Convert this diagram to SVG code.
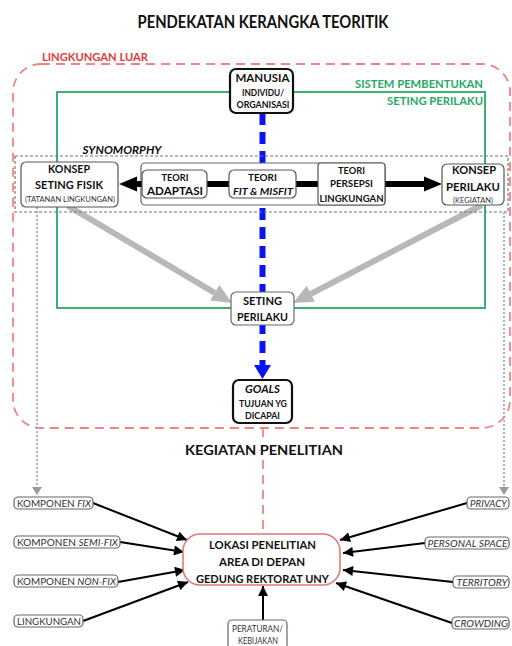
<svg xmlns="http://www.w3.org/2000/svg" width="512" height="646" viewBox="0 0 512 646">
<defs>
<style>
text{font-family:Lato,"Open Sans","Liberation Sans",sans-serif;text-anchor:middle;fill:#111}
.b{font-weight:bold}
.i{font-style:italic}
.sm{font-size:9.5px;fill:#333}
.box{fill:#fff;stroke:#555;stroke-width:1.2}
.kbox{fill:#fff;stroke:#111;stroke-width:2.2}
.gbox{fill:#fff;stroke:#666;stroke-width:1.2}
.blk{stroke:#000;stroke-width:2;fill:none}
</style>
<marker id="ah" viewBox="0 0 10 10" refX="10" refY="5" markerWidth="12" markerHeight="10" markerUnits="userSpaceOnUse" orient="auto"><path d="M0,0 L10,5 L0,10 z" fill="#000"/></marker>
</defs>
<rect width="512" height="646" fill="#fff"/>

<text class="b" x="263" y="28" font-size="16.5" textLength="251" lengthAdjust="spacingAndGlyphs">PENDEKATAN KERANGKA TEORITIK</text>

<g id="lingkungan-luar">
<rect x="13" y="64" width="497" height="364" rx="28" fill="none" stroke="#f08484" stroke-width="1.8" stroke-dasharray="9 6"/>
<text class="b" x="95" y="61" font-size="11" style="fill:#e23a3a" textLength="106" lengthAdjust="spacingAndGlyphs">LINGKUNGAN LUAR</text>
</g>

<g id="sistem">
<rect x="57" y="92" width="428" height="216" fill="none" stroke="#26a866" stroke-width="1.8"/>
<text class="b" x="419" y="88" font-size="12" style="fill:#26a866" textLength="128" lengthAdjust="spacingAndGlyphs">SISTEM PEMBENTUKAN</text>
<text class="b" x="435" y="105" font-size="12" style="fill:#26a866" textLength="96" lengthAdjust="spacingAndGlyphs">SETING PERILAKU</text>
</g>

<g id="connectors">
<line x1="262.5" y1="113" x2="262.5" y2="365" stroke="#0a14ee" stroke-width="6" stroke-dasharray="12 7"/>
<polygon points="254,365 271,365 262.5,379" fill="#0a14ee"/>
<line x1="68" y1="206" x2="214.8" y2="292.8" stroke="#b8b8b8" stroke-width="6"/>
<polygon points="232,303 210.2,300.5 219.4,285.1" fill="#b8b8b8"/>
<line x1="482" y1="205" x2="310.8" y2="293.8" stroke="#b8b8b8" stroke-width="6"/>
<polygon points="293,303 306.7,285.8 314.9,301.8" fill="#b8b8b8"/>
<line x1="37" y1="207" x2="37" y2="488" stroke="#999" stroke-width="1.5" stroke-dasharray="2 2"/>
<polygon points="32,487 42,487 37,495" fill="#999"/>
<line x1="504" y1="212" x2="504" y2="488" stroke="#999" stroke-width="1.5" stroke-dasharray="2 2"/>
<polygon points="499,487 509,487 504,495" fill="#999"/>
<line x1="263" y1="428" x2="263" y2="440" stroke="#f08484" stroke-width="1.8" stroke-dasharray="9 6"/>
<line x1="263" y1="460" x2="263" y2="534" stroke="#f08484" stroke-width="1.8" stroke-dasharray="9 6"/>
<line class="blk" x1="93" y1="503" x2="187" y2="540" marker-end="url(#ah)"/>
<line class="blk" x1="120" y1="542" x2="184" y2="552" marker-end="url(#ah)"/>
<line class="blk" x1="118" y1="582" x2="185" y2="570" marker-end="url(#ah)"/>
<line class="blk" x1="83" y1="621" x2="188" y2="582" marker-end="url(#ah)"/>
<line class="blk" x1="467" y1="503" x2="340" y2="540" marker-end="url(#ah)"/>
<line class="blk" x1="425" y1="543" x2="343" y2="553" marker-end="url(#ah)"/>
<line class="blk" x1="453" y1="582" x2="343" y2="570" marker-end="url(#ah)"/>
<line class="blk" x1="452" y1="623" x2="336" y2="583" marker-end="url(#ah)"/>
<line class="blk" x1="263" y1="620" x2="263" y2="586" marker-end="url(#ah)"/>
</g>

<g id="synomorphy">
<rect x="15" y="156" width="493" height="56" fill="none" stroke="#777" stroke-width="1.2" stroke-dasharray="3 2"/>
<text class="b i" x="122" y="154" font-size="11" textLength="79" lengthAdjust="spacingAndGlyphs">SYNOMORPHY</text>
</g>

<g id="teori-container">
<rect x="141" y="163" width="244" height="42" rx="4" fill="#fff" stroke="#666" stroke-width="1.2"/>
</g>

<g id="black-arrows">
<polygon points="119,184 137,176.5 137,191.5" fill="#000"/>
<rect x="136" y="181" width="6" height="6" fill="#000"/>
<rect x="207" y="181" width="22" height="6" fill="#000"/>
<rect x="296" y="181" width="22" height="6" fill="#000"/>
<rect x="385" y="181" width="40" height="6" fill="#000"/>
<polygon points="424,176.5 424,191.5 442,184" fill="#000"/>
</g>

<g id="manusia">
<rect class="kbox" x="230" y="69" width="63" height="44" rx="6"/>
<text class="b" x="262.5" y="82" font-size="11.5" textLength="54" lengthAdjust="spacingAndGlyphs">MANUSIA</text>
<text class="b" x="263" y="96" font-size="9" textLength="42" lengthAdjust="spacingAndGlyphs">INDIVIDU/</text>
<text class="b" x="263" y="108" font-size="9" textLength="53" lengthAdjust="spacingAndGlyphs">ORGANISASI</text>
</g>

<g id="konsep-seting-fisik">
<rect class="box" x="21" y="162" width="97" height="45" rx="5"/>
<text class="b" x="69" y="173" font-size="11" textLength="42" lengthAdjust="spacingAndGlyphs">KONSEP</text>
<text class="b" x="69" y="189" font-size="11" textLength="68" lengthAdjust="spacingAndGlyphs">SETING FISIK</text>
<text x="70" y="202" font-size="7" style="fill:#333" textLength="90" lengthAdjust="spacingAndGlyphs">(TATANAN LINGKUNGAN)</text>
</g>

<g id="teori-adaptasi">
<rect class="box" x="142" y="170" width="65" height="28" rx="5"/>
<text class="b" x="175" y="181" font-size="10" textLength="27" lengthAdjust="spacingAndGlyphs">TEORI</text>
<text class="b" x="175" y="195" font-size="10.5" textLength="56" lengthAdjust="spacingAndGlyphs">ADAPTASI</text>
</g>

<g id="teori-fit">
<rect class="box" x="229" y="170" width="67" height="28" rx="5"/>
<text class="b" x="262.5" y="181" font-size="10" textLength="29" lengthAdjust="spacingAndGlyphs">TEORI</text>
<text class="b i" x="263" y="195" font-size="10" textLength="60" lengthAdjust="spacingAndGlyphs">FIT &amp; MISFIT</text>
</g>

<g id="teori-persepsi">
<rect class="box" x="318" y="163" width="67" height="42" rx="3"/>
<text class="b" x="351.5" y="174" font-size="10" textLength="27" lengthAdjust="spacingAndGlyphs">TEORI</text>
<text class="b" x="351.5" y="187" font-size="10" textLength="43" lengthAdjust="spacingAndGlyphs">PERSEPSI</text>
<text class="b" x="351.5" y="202" font-size="10" textLength="64" lengthAdjust="spacingAndGlyphs">LINGKUNGAN</text>
</g>

<g id="konsep-perilaku">
<rect class="box" x="442" y="164" width="62" height="41" rx="5"/>
<text class="b" x="474" y="174" font-size="11.5" textLength="44" lengthAdjust="spacingAndGlyphs">KONSEP</text>
<text class="b" x="473" y="191" font-size="11.5" textLength="54" lengthAdjust="spacingAndGlyphs">PERILAKU</text>
<text x="473" y="203" font-size="7" style="fill:#333" textLength="40" lengthAdjust="spacingAndGlyphs">(KEGIATAN)</text>
</g>

<g id="seting-perilaku">
<rect class="gbox" x="231" y="292" width="63" height="33" rx="5"/>
<text class="b" x="262.5" y="305" font-size="12" textLength="39" lengthAdjust="spacingAndGlyphs">SETING</text>
<text class="b" x="262.5" y="321" font-size="12" textLength="51" lengthAdjust="spacingAndGlyphs">PERILAKU</text>
</g>

<g id="goals">
<rect class="kbox" x="233" y="380" width="59" height="43" rx="6"/>
<text class="b i" x="262.5" y="393" font-size="11.5" textLength="35" lengthAdjust="spacingAndGlyphs">GOALS</text>
<text class="b" x="263" y="407" font-size="8.5" textLength="48" lengthAdjust="spacingAndGlyphs">TUJUAN YG</text>
<text class="b" x="262.5" y="419" font-size="8.5" textLength="35" lengthAdjust="spacingAndGlyphs">DICAPAI</text>
</g>

<text class="b" x="264" y="455" font-size="14" textLength="158" lengthAdjust="spacingAndGlyphs">KEGIATAN PENELITIAN</text>

<g id="lokasi">
<rect x="183" y="534" width="157" height="51" rx="17" fill="#fff" stroke="#e07878" stroke-width="1.6"/>
<text class="b" x="262.5" y="549" font-size="11" textLength="107" lengthAdjust="spacingAndGlyphs">LOKASI PENELITIAN</text>
<text class="b" x="262" y="566" font-size="11" textLength="86" lengthAdjust="spacingAndGlyphs">AREA DI DEPAN</text>
<text class="b" x="262.5" y="583" font-size="11" textLength="133" lengthAdjust="spacingAndGlyphs">GEDUNG REKTORAT UNY</text>
</g>

<g id="peraturan">
<rect class="gbox" x="228" y="620" width="59" height="40" rx="4"/>
<text class="sm" x="257.5" y="632" textLength="51" lengthAdjust="spacingAndGlyphs">PERATURAN/</text>
<text class="sm" x="258" y="644" textLength="40" lengthAdjust="spacingAndGlyphs">KEBIJAKAN</text>
</g>

<g id="komponen-fix">
<rect class="gbox" x="14" y="497" width="79" height="12" rx="4"/>
<text class="sm" x="54" y="506.5" textLength="74" lengthAdjust="spacingAndGlyphs">KOMPONEN <tspan class="i">FIX</tspan></text>
</g>
<g id="komponen-semi-fix">
<rect class="gbox" x="14" y="536" width="106" height="12" rx="4"/>
<text class="sm" x="67.5" y="545.5" textLength="101" lengthAdjust="spacingAndGlyphs">KOMPONEN <tspan class="i">SEMI-FIX</tspan></text>
</g>
<g id="komponen-non-fix">
<rect class="gbox" x="14" y="575" width="104" height="12" rx="4"/>
<text class="sm" x="66.5" y="584.5" textLength="99" lengthAdjust="spacingAndGlyphs">KOMPONEN <tspan class="i">NON-FIX</tspan></text>
</g>
<g id="lingkungan">
<rect class="gbox" x="14" y="615" width="69" height="12" rx="4"/>
<text class="sm" x="49" y="624.5" textLength="64" lengthAdjust="spacingAndGlyphs">LINGKUNGAN</text>
</g>
<g id="privacy">
<rect class="gbox" x="467" y="497" width="42" height="12" rx="4"/>
<text class="sm i" x="488.5" y="506.5" textLength="37" lengthAdjust="spacingAndGlyphs">PRIVACY</text>
</g>
<g id="personal-space">
<rect class="gbox" x="425" y="537" width="84" height="12" rx="4"/>
<text class="sm i" x="467.5" y="546.5" textLength="80" lengthAdjust="spacingAndGlyphs">PERSONAL SPACE</text>
</g>
<g id="territory">
<rect class="gbox" x="453" y="576" width="56" height="12" rx="4"/>
<text class="sm i" x="482" y="585.5" textLength="51" lengthAdjust="spacingAndGlyphs">TERRITORY</text>
</g>
<g id="crowding">
<rect class="gbox" x="452" y="617" width="57" height="12" rx="4"/>
<text class="sm i" x="481" y="626.5" textLength="54" lengthAdjust="spacingAndGlyphs">CROWDING</text>
</g>
</svg>
